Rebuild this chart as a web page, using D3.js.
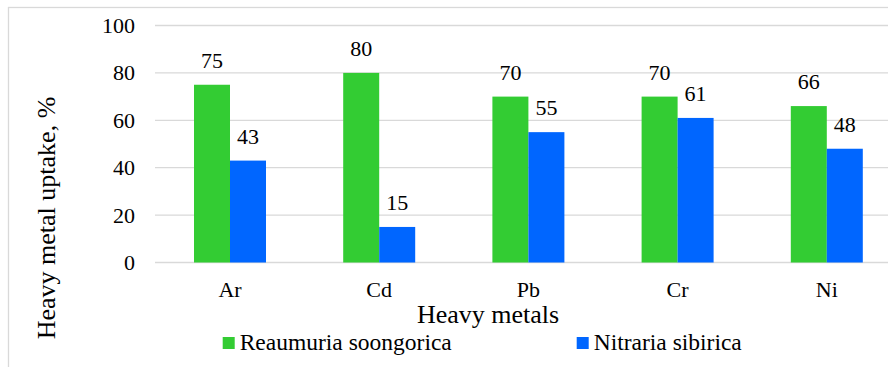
<!DOCTYPE html>
<html>
<head>
<meta charset="utf-8">
<script src="https://cdn.jsdelivr.net/npm/d3@7"></script>
<style>
  body { margin: 0; background: #fff; }
</style>
</head>
<body>
<svg id="chart" width="888" height="367"></svg>
<script>
let metals = ["Ar", "Cd", "Pb", "Cr", "Ni"];
let seriesNames = ["Reaumuria soongorica", "Nitraria sibirica"];
let reaumuria = [75, 80, 70, 70, 66];
let nitraria = [43, 15, 55, 61, 48];
let yTicks = [0, 20, 40, 60, 80, 100];
let colors = ["#33cc33", "#0066ff"];

let svg = d3.select("#chart");
let gridColor = "#d9d9d9";
let serif = "'Liberation Serif', 'Times New Roman', Times, serif";

// chart frame (cropped on right and bottom)
svg.append("rect")
    .attr("x", 8.5)
    .attr("y", 7.5)
    .attr("width", 950)
    .attr("height", 450)
    .attr("fill", "none")
    .attr("stroke", gridColor)
    .attr("stroke-width", 1.3);

let xScale = d3.scaleBand()
    .domain(metals)
    .range([155.4, 901.4])
    .padding(0);

let bw = xScale.bandwidth();
let xSub = d3.scaleBand()
    .domain(seriesNames)
    .range([bw / 2 - 36, bw / 2 + 36]);

let yScale = d3.scaleLinear()
    .domain([0, 100])
    .range([262.5, 25.5]);

// grid lines
svg.selectAll(".grid")
    .data(yTicks)
    .enter()
    .append("line")
    .attr("x1", 155)
    .attr("x2", 888)
    .attr("y1", d => yScale(d))
    .attr("y2", d => yScale(d))
    .attr("stroke", gridColor)
    .attr("stroke-width", 1.3);

// y tick labels
svg.selectAll(".ytick")
    .data(yTicks)
    .enter()
    .append("text")
    .attr("x", 135)
    .attr("y", d => yScale(d))
    .attr("dy", "0.34em")
    .attr("font-family", serif)
    .attr("font-size", 22)
    .style("text-anchor", "end")
    .text(d => d);

// bars
let rows = metals.map((m, i) => ({ metal: m, values: [reaumuria[i], nitraria[i]] }));

let groups = svg.selectAll(".group")
    .data(rows)
    .enter()
    .append("g")
    .attr("transform", d => "translate(" + xScale(d.metal) + ",0)");

groups.selectAll("rect")
    .data(d => d.values.map((v, j) => ({ name: seriesNames[j], value: v, idx: j })))
    .enter()
    .append("rect")
    .attr("x", d => xSub(d.name))
    .attr("y", d => yScale(d.value))
    .attr("width", xSub.bandwidth())
    .attr("height", d => yScale(0) - yScale(d.value))
    .attr("fill", d => colors[d.idx]);

// data labels
groups.selectAll(".label")
    .data(d => d.values.map((v, j) => ({ name: seriesNames[j], value: v })))
    .enter()
    .append("text")
    .attr("x", d => xSub(d.name) + xSub.bandwidth() / 2)
    .attr("y", d => yScale(d.value) - 17)
    .attr("font-family", serif)
    .attr("font-size", 22)
    .style("text-anchor", "middle")
    .text(d => d.value);

// category labels
svg.selectAll(".xtick")
    .data(metals)
    .enter()
    .append("text")
    .attr("x", d => xScale(d) + bw / 2)
    .attr("y", 297)
    .attr("font-family", serif)
    .attr("font-size", 22)
    .style("text-anchor", "middle")
    .text(d => d);

// axis titles
svg.append("text")
    .attr("x", 488)
    .attr("y", 323)
    .attr("font-family", serif)
    .attr("font-size", 26)
    .style("text-anchor", "middle")
    .text("Heavy metals");

svg.append("text")
    .attr("transform", "translate(55,218) rotate(-90)")
    .attr("font-family", serif)
    .attr("font-size", 26)
    .style("text-anchor", "middle")
    .text("Heavy metal uptake, %");

// legend
let legendX = [222.7, 576.7];
seriesNames.forEach((name, i) => {
    svg.append("rect")
        .attr("x", legendX[i])
        .attr("y", 337)
        .attr("width", 12)
        .attr("height", 12)
        .attr("fill", colors[i]);
    svg.append("text")
        .attr("x", legendX[i] + 17)
        .attr("y", 350)
        .attr("font-family", serif)
        .attr("font-size", 23.5)
        .text(name);
});
</script>
</body>
</html>
